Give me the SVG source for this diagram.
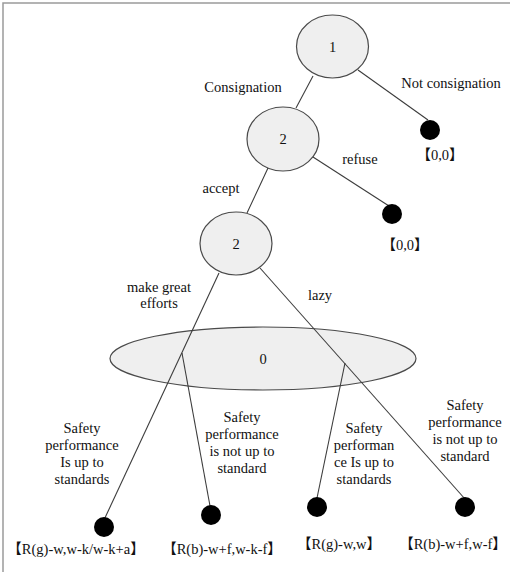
<svg xmlns="http://www.w3.org/2000/svg" width="510" height="572" viewBox="0 0 510 572" font-family="'Liberation Serif', 'DejaVu Serif', 'Noto Sans CJK SC', serif">
  <style>
    .node { fill: #efefef; stroke: #4a4a4a; stroke-width: 1.2; }
    .leaf { fill: #000; }
    .edge { stroke: #3c3c3c; stroke-width: 1.1; fill: none; }
    .t { font-size: 14.5px; fill: #111; text-anchor: middle; }
    .frame { stroke: #9a9a9a; stroke-width: 1.5; fill: none; }
  </style>
  <rect width="510" height="572" fill="#fff"/>
  <path class="frame" d="M3,572 V3 H510"/>

  <g id="node-1">
    <ellipse class="node" cx="332.5" cy="46.5" rx="36" ry="31.5"/>
    <text class="t" x="332.5" y="51.5">1</text>
  </g>
  <g id="node-2a">
    <ellipse class="node" cx="283" cy="139" rx="36" ry="32"/>
    <text class="t" x="283" y="144">2</text>
  </g>
  <g id="node-2b">
    <ellipse class="node" cx="236" cy="243.5" rx="36" ry="31.5"/>
    <text class="t" x="236" y="248.5">2</text>
  </g>
  <g id="node-0">
    <ellipse class="node" cx="263" cy="358.5" rx="153" ry="31.5"/>
    <text class="t" x="263" y="363.5">0</text>
  </g>

  <!-- edges are drawn over the chance node so they show through it -->
  <g id="connectors">
    <line class="edge" x1="313" y1="76" x2="296" y2="108"/>
    <line class="edge" x1="358" y1="70" x2="428" y2="120"/>
    <line class="edge" x1="268" y1="168" x2="247" y2="213"/>
    <line class="edge" x1="313" y1="157" x2="389" y2="206"/>
    <line class="edge" x1="219" y1="273" x2="104" y2="520"/>
    <line class="edge" x1="260" y1="268" x2="465" y2="499"/>
    <line class="edge" x1="182" y1="353" x2="210" y2="506"/>
    <line class="edge" x1="345" y1="363" x2="317" y2="498"/>
  </g>

  <g id="leaf-not-consignation">
    <circle class="leaf" cx="430" cy="130" r="10"/>
    <text class="t" x="440" y="160">【0,0】</text>
  </g>
  <g id="leaf-refuse">
    <circle class="leaf" cx="392" cy="214" r="10"/>
    <text class="t" x="405" y="250">【0,0】</text>
  </g>
  <g id="leaf-1">
    <circle class="leaf" cx="104" cy="527" r="10"/>
    <text class="t" x="76" y="554">【R(g)-w,w-k/w-k+a】</text>
  </g>
  <g id="leaf-2">
    <circle class="leaf" cx="211" cy="515" r="10"/>
    <text class="t" x="222" y="554">【R(b)-w+f,w-k-f】</text>
  </g>
  <g id="leaf-3">
    <circle class="leaf" cx="317" cy="507" r="10"/>
    <text class="t" x="339" y="549">【R(g)-w,w】</text>
  </g>
  <g id="leaf-4">
    <circle class="leaf" cx="465" cy="507" r="10"/>
    <text class="t" x="453" y="549">【R(b)-w+f,w-f】</text>
  </g>

  <g id="labels">
    <text class="t" x="243" y="92">Consignation</text>
    <text class="t" x="451" y="88">Not consignation</text>
    <text class="t" x="360" y="164">refuse</text>
    <text class="t" x="221" y="193">accept</text>
    <text class="t" x="159" y="292">make great</text>
    <text class="t" x="159" y="308">efforts</text>
    <text class="t" x="320" y="300">lazy</text>

    <text class="t" x="82" y="433">Safety</text>
    <text class="t" x="82" y="450">performance</text>
    <text class="t" x="82" y="467">Is up to</text>
    <text class="t" x="82" y="484">standards</text>

    <text class="t" x="242" y="422">Safety</text>
    <text class="t" x="242" y="439">performance</text>
    <text class="t" x="242" y="456">is not up to</text>
    <text class="t" x="242" y="473">standard</text>

    <text class="t" x="364" y="433">Safety</text>
    <text class="t" x="364" y="450">performan</text>
    <text class="t" x="364" y="467">ce Is up to</text>
    <text class="t" x="364" y="484">standards</text>

    <text class="t" x="465" y="410">Safety</text>
    <text class="t" x="465" y="427">performance</text>
    <text class="t" x="465" y="444">is not up to</text>
    <text class="t" x="465" y="461">standard</text>
  </g>
</svg>
